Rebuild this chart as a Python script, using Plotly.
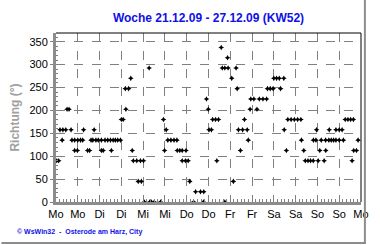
import plotly.graph_objects as go
import pandas as pd

# Wind direction readings: hours since Mon 21.12.2009 00:00, direction in degrees
hours = [
    0.4, 1.5, 2.2, 3.8, 5.4, 3.4, 6.1, 7.2, 8.3,
    8.8, 10.3, 12.0, 13.5, 14.7, 10.3, 11.8, 15.2, 17.4, 18.5,
    19.3, 20.3, 22.0, 23.3, 21.0, 25.0, 26.0,
    25.0, 27.0, 28.5, 30.0, 31.5, 32.7, 34.0, 35.5, 30.5,
    36.0, 37.0, 38.5, 38.2, 40.0, 41.2, 42.0,
    42.6, 44.5, 46.5, 48.2, 45.3, 47.0, 51.3,
    48.7, 51.6, 52.6, 54.1, 57.6,
    59.2, 59.8, 60.7, 61.6, 63.3, 65.0, 66.6,
    66.8, 68.2, 69.5, 71.6, 69.5, 71.3, 72.8, 73.7,
    75.8, 76.9, 79.6, 81.4, 81.2, 82.9, 83.9, 84.3, 85.6,
    86.3, 87.9, 89.5, 88.6, 91.0, 91.6, 93.0, 94.8, 99.2,
    93.0, 94.5, 96.8, 97.7, 99.8, 100.5, 102.8, 105.3, 101.6, 103.8, 105.9,
    106.9, 110.7, 107.3, 109.0, 112.0, 114.0, 116.0,
    116.5, 118.0, 119.6, 123.7, 120.0, 121.5, 123.0, 125.5,
    125.7, 126.9, 127.7, 129.5, 131.3, 133.1, 134.9,
    135.2, 136.5, 137.3, 138.8, 140.2, 141.7, 141.8, 143.2, 143.5,
    144.4, 145.3, 146.1, 147.7, 148.6,
    148.5, 150.3, 151.6, 152.9, 154.2, 156.0, 158.3, 150.5,
    154.2, 156.0, 157.6, 159.3, 160.8, 162.3, 163.8,
    163.1, 164.0, 165.5, 166.4,
]
direction = [
    90, 90, 157.5, 157.5, 157.5, 135, 202.5, 202.5, 157.5,
    135, 135, 135, 135, 135, 112.5, 112.5, 157.5, 112.5, 112.5,
    135, 135, 135, 135, 157.5, 112.5, 112.5,
    135, 135, 135, 135, 135, 135, 135, 135, 112.5,
    180, 180, 202.5, 247.5, 247.5, 270, 112.5,
    90, 90, 90, 90, 45, 45, 292.5,
    0, 0, 0, 0, 0,
    180, 112.5, 157.5, 135, 135, 135, 135,
    112.5, 112.5, 112.5, 112.5, 90, 90, 90, 45,
    0, 22.5, 22.5, 22.5, 0, 225, 202.5, 157.5, 157.5,
    180, 180, 180, 90, 337.5, 292.5, 292.5, 292.5, 292.5,
    0, 315, 270, 45, 247.5, 157.5, 157.5, 157.5, 112.5, 180, 135,
    202.5, 202.5, 225, 225, 225, 225, 225,
    247.5, 247.5, 247.5, 247.5, 270, 270, 270, 270,
    157.5, 112.5, 180, 180, 180, 180, 180,
    135, 112.5, 90, 90, 90, 90, 135, 135, 157.5,
    90, 112.5, 135, 90, 112.5,
    135, 135, 135, 135, 135, 135, 135, 157.5,
    157.5, 157.5, 157.5, 180, 180, 180, 180,
    90, 112.5, 112.5, 135,
]

tick_labels = ["Mo", "Mo", "Di", "Di", "Mi", "Mi", "Do", "Do",
               "Fr", "Fr", "Sa", "Sa", "So", "So", "Mo"]
y_ticks = [0, 50, 100, 150, 200, 250, 300, 350]

start = pd.Timestamp("2009-12-21 00:00")
times = [start + pd.Timedelta(hours=h) for h in hours]
tick_vals = [start + pd.Timedelta(hours=12 * i) for i in range(len(tick_labels))]

W, H = 380, 245
ML, MR, MT, MB = 56, 11, 33, 43
PW, PH = W - ML - MR, H - MT - MB

def px(x):
    return (x - ML) / PW

def py(y):
    return (H - MB - y) / PH

fig = go.Figure()
fig.add_trace(go.Scatter(
    x=times, y=direction, mode="markers",
    marker=dict(symbol="star-diamond", size=4, color="black",
                line=dict(color="black", width=0)),
    showlegend=False, hoverinfo="x+y",
))

font_family = "Liberation Sans, Arial, sans-serif"

fig.update_layout(
    width=W, height=H,
    margin=dict(l=ML, r=MR, t=MT, b=MB),
    paper_bgcolor="white", plot_bgcolor="white",
    font=dict(family=font_family, size=11, color="black"),
    title=dict(text="<b>Woche 21.12.09 - 27.12.09 (KW52)</b>",
               x=0.5, xref="paper", xanchor="center",
               y=1 - 18 / H, yanchor="middle",
               font=dict(size=12, color="#1010e8", family=font_family)),
    xaxis=dict(
        range=[start, start + pd.Timedelta(days=7)],
        tickmode="array", tickvals=tick_vals, ticktext=tick_labels,
        showgrid=True, gridcolor="#808080", griddash="dash", gridwidth=1,
        showline=True, linecolor="#8c8c8c", linewidth=3,
        ticks="inside", ticklen=5, tickcolor="#808080",
        minor=dict(dtick=2 * 3600 * 1000, ticks="inside", ticklen=3,
                   tickcolor="#808080", showgrid=False),
        tickfont=dict(size=11, color="black"),
        zeroline=False, fixedrange=True,
    ),
    yaxis=dict(
        range=[0, 369],
        tickmode="array", tickvals=y_ticks,
        showgrid=True, gridcolor="#808080", griddash="dash", gridwidth=1,
        showline=True, linecolor="#8c8c8c", linewidth=3,
        ticks="outside", ticklen=3, tickcolor="#808080",
        minor=dict(dtick=10, ticks="inside", ticklen=2,
                   tickcolor="#808080", showgrid=False),
        tickfont=dict(size=11, color="black"),
        title=dict(text="<b>Richtung (°)</b>", standoff=8,
                   font=dict(size=12, color="#a0a0a0")),
        zeroline=False, fixedrange=True,
    ),
    shapes=[
        dict(type="line", xref="paper", yref="paper", x0=0, x1=1, y0=1, y1=1,
             line=dict(color="black", width=1)),
        dict(type="line", xref="paper", yref="paper", x0=1, x1=1, y0=0, y1=1,
             line=dict(color="black", width=1)),
        dict(type="line", xref="paper", yref="paper",
             x0=px(373), x1=px(373), y0=py(0), y1=py(244),
             line=dict(color="#8c8c8c", width=2)),
        dict(type="line", xref="paper", yref="paper",
             x0=px(0), x1=px(374), y0=py(243), y1=py(243),
             line=dict(color="#8c8c8c", width=2)),
    ],
    annotations=[
        dict(text="<b>© WsWin32  -  Osterode am Harz, City</b>",
             xref="paper", yref="paper", x=px(14), y=py(232),
             xanchor="left", yanchor="middle", showarrow=False,
             font=dict(size=7, color="#1010e8", family=font_family)),
    ],
)

fig.write_html("out.html")
